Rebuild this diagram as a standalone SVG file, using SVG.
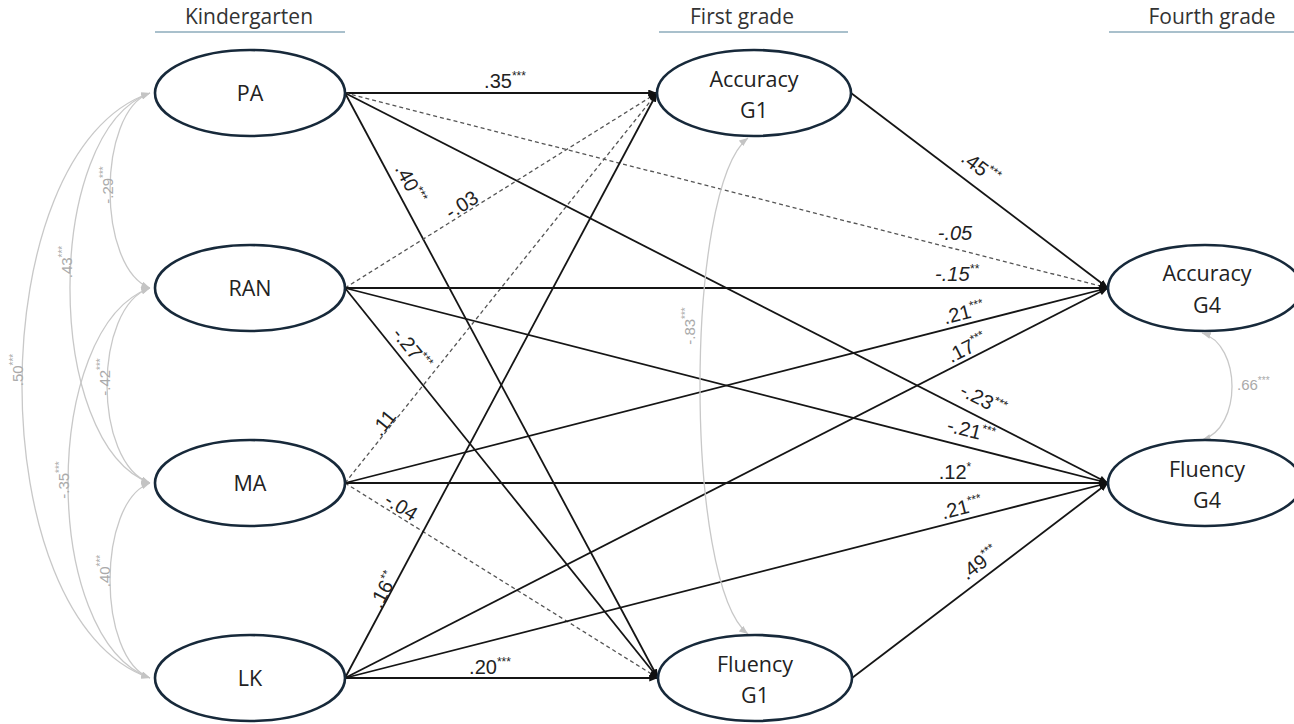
<svg xmlns="http://www.w3.org/2000/svg" width="1294" height="724" viewBox="0 0 1294 724">
<defs>
<marker id="ah" viewBox="0 0 10 8" refX="10" refY="4" markerWidth="9" markerHeight="7" markerUnits="userSpaceOnUse" orient="auto"><path d="M0,0 L10,4 L0,8 z" fill="#111"/></marker>
<marker id="gh" viewBox="0 0 10 8" refX="10" refY="4" markerWidth="9" markerHeight="7" markerUnits="userSpaceOnUse" orient="auto-start-reverse"><path d="M0,0 L10,4 L0,8 z" fill="#c4c4c4"/></marker>
</defs>
<style>
.hdr{font-family:"Open Sans","Liberation Sans",sans-serif;font-size:21px;fill:#333;text-anchor:middle}
.ul{stroke:#a9c0cc;stroke-width:2}
.node ellipse{fill:#fff;stroke:#17293a;stroke-width:2.6}
.node text{font-family:"Open Sans","Liberation Sans",sans-serif;font-size:21.5px;fill:#222;text-anchor:middle}
.s{stroke:#151515;stroke-width:1.8;fill:none;marker-end:url(#ah)}
.d{stroke:#555;stroke-width:1.3;stroke-dasharray:4 3;fill:none;marker-end:url(#ah)}
.cv{stroke:#c8c8c8;stroke-width:1.3;fill:none;marker-start:url(#gh);marker-end:url(#gh)}
.lb{font-family:"Liberation Sans",Arial,sans-serif;font-size:20px;fill:#222;text-anchor:middle}
.it{font-style:italic}
.gl{font-family:"Liberation Sans",Arial,sans-serif;font-size:15px;fill:#aaa;text-anchor:middle}
.sup{font-size:12px}
.gsup{font-size:10px}
</style>

<g id="headers">
<text class="hdr" x="249" y="24">Kindergarten</text>
<line class="ul" x1="155" y1="32" x2="345" y2="32"/>
<text class="hdr" x="742" y="24">First grade</text>
<line class="ul" x1="659" y1="32" x2="848" y2="32"/>
<text class="hdr" x="1212" y="24">Fourth grade</text>
<line class="ul" x1="1109" y1="32" x2="1294" y2="32"/>
</g>

<g id="connectors">
<line class="s" x1="345" y1="93" x2="657" y2="93"/>
<line class="s" x1="345" y1="93" x2="658" y2="678"/>
<line class="d" x1="345" y1="93" x2="1108" y2="288"/>
<line class="s" x1="345" y1="93" x2="1108" y2="483"/>
<line class="d" x1="345" y1="288" x2="657" y2="93"/>
<line class="s" x1="345" y1="288" x2="658" y2="678"/>
<line class="s" x1="345" y1="288" x2="1108" y2="288"/>
<line class="s" x1="345" y1="288" x2="1108" y2="483"/>
<line class="d" x1="345" y1="483" x2="657" y2="93"/>
<line class="d" x1="345" y1="483" x2="658" y2="678"/>
<line class="s" x1="345" y1="483" x2="1108" y2="288"/>
<line class="s" x1="345" y1="483" x2="1108" y2="483"/>
<line class="s" x1="345" y1="678" x2="657" y2="93"/>
<line class="s" x1="345" y1="678" x2="658" y2="678"/>
<line class="s" x1="345" y1="678" x2="1108" y2="288"/>
<line class="s" x1="345" y1="678" x2="1108" y2="483"/>
<line class="s" x1="851" y1="93" x2="1108" y2="288"/>
<line class="s" x1="852" y1="678" x2="1108" y2="483"/>

<path class="cv" d="M150,93 C96.7,112 96.7,268 150,288"/>
<path class="cv" d="M150,93 C43.3,132 43.3,444 150,483"/>
<path class="cv" d="M150,93 C-20.7,151 -20.7,620 150,678"/>
<path class="cv" d="M150,288 C92.7,307 92.7,463 150,483"/>
<path class="cv" d="M150,288 C40.7,327 40.7,639 150,678"/>
<path class="cv" d="M150,483 C96.7,502 96.7,658 150,678"/>
<path class="cv" d="M748,138 C684,188 684,584 748,634"/>
<path class="cv" d="M1202,333 C1242,345 1242,428 1202,440"/>

<text class="lb" x="505" y="88">.35<tspan class="sup" dy="-8">***</tspan></text>
<text class="lb" transform="rotate(61.85 404.3 187)" x="404.3" y="187">.40<tspan class="sup" dy="-8">***</tspan></text>
<text class="lb it" x="955" y="240">-.05</text>
<text class="lb" transform="rotate(27.07 980 405.8)" x="980" y="405.8">-.23<tspan class="sup" dy="-8">***</tspan></text>
<text class="lb" transform="rotate(-32 465.4 210.5)" x="465.4" y="210.5">-.03</text>
<text class="lb" transform="rotate(51.25 406.4 353.1)" x="406.4" y="353.1">-.27<tspan class="sup" dy="-8">***</tspan></text>
<text class="lb it" x="957" y="281">-.15<tspan class="sup" dy="-8">**</tspan></text>
<text class="lb" transform="rotate(14.34 969.4 437.3)" x="969.4" y="437.3">-.21<tspan class="sup" dy="-8">***</tspan></text>
<text class="lb" transform="rotate(-51.34 389.1 427.1)" x="389.1" y="427.1">.11</text>
<text class="lb" transform="rotate(31.92 397.6 512.5)" x="397.6" y="512.5">-.04</text>
<text class="lb" transform="rotate(-14.34 965.6 319.3)" x="965.6" y="319.3">.21<tspan class="sup" dy="-8">***</tspan></text>
<text class="lb" x="955" y="479">.12<tspan class="sup" dy="-8">*</tspan></text>
<text class="lb" transform="rotate(-61.93 389.7 593.1)" x="389.7" y="593.1">.16<tspan class="sup" dy="-8">**</tspan></text>
<text class="lb" x="490" y="674">.20<tspan class="sup" dy="-8">***</tspan></text>
<text class="lb" transform="rotate(-27.07 970 353.8)" x="970" y="353.8">.17<tspan class="sup" dy="-8">***</tspan></text>
<text class="lb" transform="rotate(-14.34 963.6 514.3)" x="963.6" y="514.3">.21<tspan class="sup" dy="-8">***</tspan></text>
<text class="lb" transform="rotate(37.19 976.4 173.2)" x="976.4" y="173.2">.45<tspan class="sup" dy="-8">***</tspan></text>
<text class="lb" transform="rotate(-37.19 983.6 568.2)" x="983.6" y="568.2">.49<tspan class="sup" dy="-8">***</tspan></text>

<text class="gl" transform="rotate(-90 113 185)" x="113" y="185">-.29<tspan class="gsup" dy="-6">***</tspan></text>
<text class="gl" transform="rotate(-90 72 262)" x="72" y="262">.43<tspan class="gsup" dy="-6">***</tspan></text>
<text class="gl" transform="rotate(-90 23 370)" x="23" y="370">.50<tspan class="gsup" dy="-6">***</tspan></text>
<text class="gl" transform="rotate(-90 110 377)" x="110" y="377">-.42<tspan class="gsup" dy="-6">***</tspan></text>
<text class="gl" transform="rotate(-90 69 480)" x="69" y="480">-.35<tspan class="gsup" dy="-6">***</tspan></text>
<text class="gl" transform="rotate(-90 110 571)" x="110" y="571">.40<tspan class="gsup" dy="-6">***</tspan></text>
<text class="gl" transform="rotate(-90 695 326)" x="695" y="326">-.83<tspan class="gsup" dy="-6">***</tspan></text>
<text class="gl" x="1237" y="390" style="text-anchor:start">.66<tspan class="gsup" dy="-6">***</tspan></text>
</g>

<g id="node-PA" class="node"><ellipse cx="250" cy="93" rx="95" ry="43"/><text x="250" y="101">PA</text></g>
<g id="node-RAN" class="node"><ellipse cx="250" cy="288" rx="95" ry="43"/><text x="250" y="296">RAN</text></g>
<g id="node-MA" class="node"><ellipse cx="250" cy="483" rx="95" ry="43"/><text x="250" y="491">MA</text></g>
<g id="node-LK" class="node"><ellipse cx="250" cy="678" rx="95" ry="43"/><text x="250" y="686">LK</text></g>
<g id="node-AccG1" class="node"><ellipse cx="754" cy="93" rx="97" ry="43"/><text x="754" y="87">Accuracy</text><text x="754" y="118">G1</text></g>
<g id="node-FluG1" class="node"><ellipse cx="755" cy="678" rx="97" ry="43"/><text x="755" y="672">Fluency</text><text x="755" y="703">G1</text></g>
<g id="node-AccG4" class="node"><ellipse cx="1205" cy="288" rx="97" ry="43"/><text x="1207" y="281">Accuracy</text><text x="1207" y="313">G4</text></g>
<g id="node-FluG4" class="node"><ellipse cx="1205" cy="483" rx="97" ry="43"/><text x="1207" y="477">Fluency</text><text x="1207" y="508">G4</text></g>
</svg>
